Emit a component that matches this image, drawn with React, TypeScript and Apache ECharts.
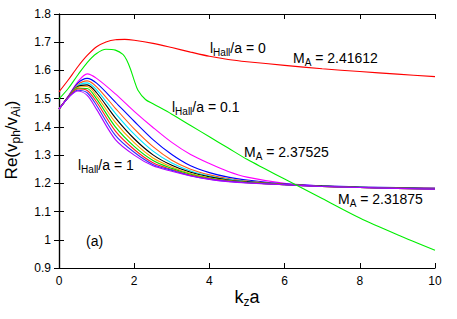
import React, { useEffect, useRef } from "react";
import * as echarts from "echarts";

// ---- data ----
const KZ_BUNDLE = [0, 0.25, 0.5, 0.75, 1, 1.5, 2, 2.5, 3, 3.5, 4, 4.5, 5, 6, 7, 8, 9, 10];
const H02 = [1.463, 1.510, 1.560, 1.588, 1.572, 1.517, 1.455, 1.398, 1.345, 1.302, 1.270, 1.242, 1.222, 1.200, 1.190, 1.185, 1.182, 1.180];
const H03 = [1.463, 1.508, 1.555, 1.572, 1.555, 1.488, 1.420, 1.355, 1.302, 1.262, 1.238, 1.222, 1.212, 1.198, 1.191, 1.187, 1.185, 1.183];
const H04 = [1.463, 1.507, 1.550, 1.563, 1.542, 1.466, 1.393, 1.330, 1.282, 1.250, 1.230, 1.217, 1.208, 1.197, 1.190, 1.186, 1.184, 1.182];
const H05 = [1.463, 1.506, 1.546, 1.556, 1.531, 1.448, 1.374, 1.314, 1.272, 1.244, 1.226, 1.214, 1.206, 1.196, 1.190, 1.186, 1.183, 1.181];
const H06 = [1.463, 1.506, 1.543, 1.549, 1.521, 1.432, 1.358, 1.301, 1.264, 1.239, 1.223, 1.212, 1.205, 1.196, 1.190, 1.186, 1.183, 1.181];
const H07 = [1.463, 1.505, 1.540, 1.543, 1.510, 1.416, 1.344, 1.290, 1.258, 1.235, 1.220, 1.210, 1.204, 1.196, 1.189, 1.185, 1.182, 1.180];
const H08 = [1.463, 1.505, 1.537, 1.536, 1.499, 1.400, 1.331, 1.281, 1.253, 1.232, 1.218, 1.209, 1.203, 1.195, 1.189, 1.185, 1.182, 1.180];
const H09 = [1.463, 1.505, 1.534, 1.529, 1.488, 1.385, 1.320, 1.273, 1.249, 1.229, 1.216, 1.208, 1.202, 1.195, 1.189, 1.185, 1.182, 1.180];
const H10 = [1.463, 1.504, 1.530, 1.521, 1.476, 1.370, 1.310, 1.267, 1.246, 1.227, 1.215, 1.207, 1.202, 1.195, 1.189, 1.185, 1.182, 1.180];
const H11 = [1.463, 1.504, 1.527, 1.512, 1.462, 1.355, 1.300, 1.262, 1.243, 1.226, 1.214, 1.206, 1.201, 1.195, 1.189, 1.185, 1.182, 1.179];
const BUNDLE = [H02, H03, H04, H05, H06, H07, H08, H09, H10, H11];
const BUNDLE_COLORS = ["#ff00ff", "#0000ff", "#ff5a14", "#00e5ff", "#000000", "#ffa000", "#00e000", "#ff2020", "#3030ff", "#b000ff"];

const KZ_HALL0 = [0, 0.25, 0.5, 0.75, 1, 1.25, 1.5, 1.75, 2, 2.5, 3, 3.5, 4, 4.5, 5, 6, 7, 8, 9, 10];
const HALL0 = [1.524, 1.567, 1.613, 1.653, 1.684, 1.701, 1.709, 1.710, 1.707, 1.696, 1.681, 1.665, 1.650, 1.639, 1.631, 1.618, 1.606, 1.596, 1.587, 1.578];

const KZ_HALL01 = [0, 0.25, 0.5, 0.75, 1, 1.25, 1.5, 1.7, 1.8, 1.9, 2.0, 2.1, 2.3, 2.5, 3, 3.5, 4, 4.5, 5, 5.5, 6, 7, 8, 9, 10];
const HALL01 = [1.499, 1.537, 1.584, 1.628, 1.660, 1.675, 1.672, 1.657, 1.637, 1.605, 1.565, 1.530, 1.497, 1.482, 1.445, 1.405, 1.365, 1.325, 1.285, 1.250, 1.215, 1.146, 1.077, 1.018, 0.963];

const X_MIN = 0, X_MAX = 10, X_STEP = 2;
const Y_MIN = 0.9, Y_MAX = 1.8, Y_STEP = 0.1;

const FONT = "Liberation Sans, Arial, Helvetica, sans-serif";

export default function App() {
  const ref = useRef<HTMLDivElement>(null);
  useEffect(() => {
    if (!ref.current) return;
    const chart = echarts.init(ref.current, undefined, { renderer: "svg" });
    const pair = (xs: number[], ys: number[]) => xs.map((x, i) => [x, ys[i]]);
    const mk = (name: string, xs: number[], ys: number[], color: string) => ({
      name,
      type: "line",
      data: pair(xs, ys),
      showSymbol: false,
      smooth: 0.3,
      lineStyle: { color, width: 1.1 },
      itemStyle: { color },
      silent: true,
      z: 2,
    });
    const series: any[] = [];
    BUNDLE.forEach((ys, i) => series.push(mk("b" + i, KZ_BUNDLE, ys, BUNDLE_COLORS[i])));
    series.push(mk("h0", KZ_HALL0, HALL0, "#ff0000"));
    series.push(mk("h01", KZ_HALL01, HALL01, "#00ee00"));

    const rich = {
      m: { fontSize: 14, fontFamily: FONT, color: "#000", lineHeight: 18, verticalAlign: "middle" },
      s: { fontSize: 10, fontFamily: FONT, color: "#000", lineHeight: 10, verticalAlign: "bottom" },
    };
    const ann = (x: number, y: number, text: string) => ({
      type: "text",
      x,
      y,
      silent: true,
      z: 100,
      style: { text, rich, textVerticalAlign: "middle", textAlign: "left", fill: "#000", font: `14px ${FONT}` },
    });

    const axisCommon = {
      type: "value",
      axisLine: { show: true, lineStyle: { color: "#000", width: 1.2 } },
      axisTick: { show: true, inside: true, length: 5, lineStyle: { color: "#000", width: 1 } },
      splitLine: { show: false },
    };

    chart.setOption({
      animation: false,
      backgroundColor: "#fff",
      grid: { left: 59, right: 22, top: 14, bottom: 51, containLabel: false, outerBoundsMode: "none" },
      xAxis: [
        {
          ...axisCommon,
          min: X_MIN,
          max: X_MAX,
          interval: X_STEP,
          position: "bottom",
          axisLabel: { color: "#000", fontSize: 12, fontFamily: FONT, margin: 7 },
        },
        {
          ...axisCommon,
          min: X_MIN,
          max: X_MAX,
          interval: X_STEP,
          position: "top",
          axisLabel: { show: false },
        },
      ],
      yAxis: [
        {
          ...axisCommon,
          min: Y_MIN,
          max: Y_MAX,
          interval: Y_STEP,
          position: "left",
          axisLabel: {
            color: "#000",
            fontSize: 12,
            fontFamily: FONT,
            margin: 8,
            formatter: (v: number) => String(+v.toFixed(1)),
          },
        },
        {
          ...axisCommon,
          min: Y_MIN,
          max: Y_MAX,
          interval: Y_STEP,
          position: "right",
          axisLabel: { show: false },
        },
      ],
      series,
      graphic: [
        ann(210, 48, "{m|l}{s|Hall}{m|/a = 0}"),
        ann(293, 58, "{m|M}{s|A}{m| = 2.41612}"),
        ann(172, 107, "{m|l}{s|Hall}{m|/a = 0.1}"),
        ann(244, 152, "{m|M}{s|A}{m| = 2.37525}"),
        ann(78, 165, "{m|l}{s|Hall}{m|/a = 1}"),
        ann(338, 199, "{m|M}{s|A}{m| = 2.31875}"),
        ann(86, 241, "{m|(a)}"),
        {
          type: "text",
          x: 247,
          y: 297,
          silent: true,
          style: {
            text: "{m|k}{s|z}{m|a}",
            rich: {
              m: { fontSize: 18, fontFamily: FONT, color: "#000", lineHeight: 22, verticalAlign: "middle" },
              s: { fontSize: 12, fontFamily: FONT, color: "#000", lineHeight: 12, verticalAlign: "bottom" },
            },
            textAlign: "center",
            textVerticalAlign: "middle",
            fill: "#000",
          },
        },
        {
          type: "text",
          x: 11,
          y: 140,
          rotation: Math.PI / 2,
          silent: true,
          style: {
            text: "{m|Re(v}{s|ph}{m|/v}{s|Ai}{m|)}",
            rich: {
              m: { fontSize: 17, fontFamily: FONT, color: "#000", lineHeight: 21, verticalAlign: "middle" },
              s: { fontSize: 12, fontFamily: FONT, color: "#000", lineHeight: 12, verticalAlign: "bottom" },
            },
            textAlign: "center",
            textVerticalAlign: "middle",
            fill: "#000",
          },
        },
      ],
    });
    return () => chart.dispose();
  }, []);
  return <div ref={ref} style={{ width: 457, height: 319, position: "absolute", left: 0, top: 0 }} />;
}
